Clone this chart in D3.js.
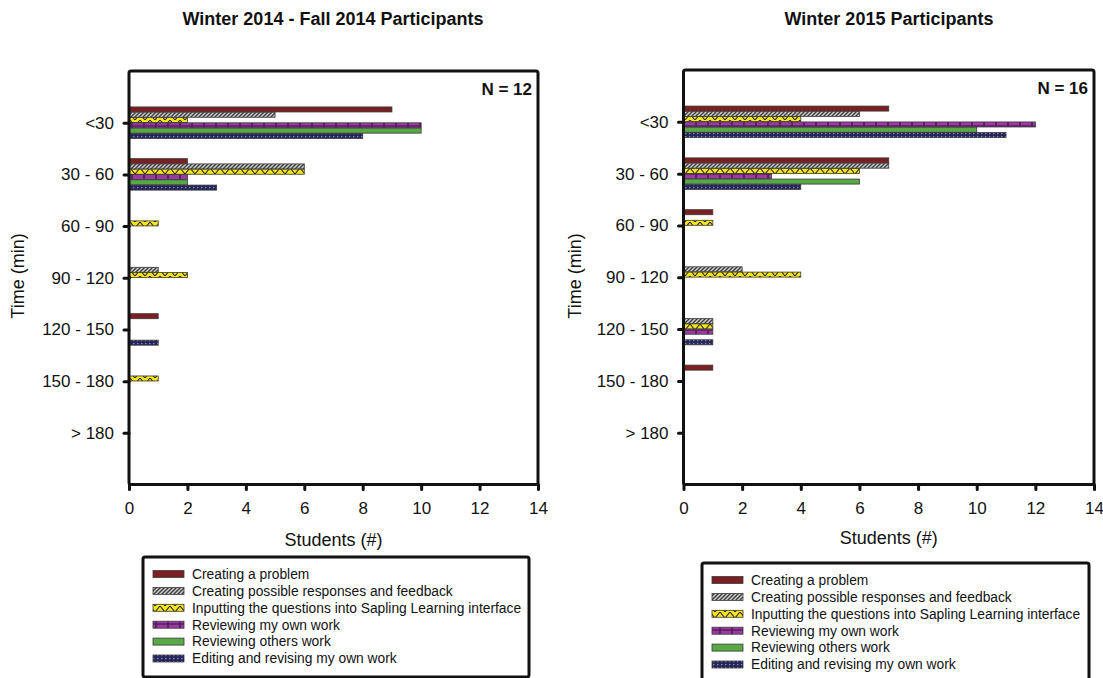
<!DOCTYPE html>
<html>
<head>
<meta charset="utf-8">
<script src="https://cdn.jsdelivr.net/npm/d3@7"></script>
<style>
  html, body { margin: 0; padding: 0; background: #fff; }
  svg { display: block; font-family: Arial, "Liberation Sans", sans-serif; }
</style>
</head>
<body>
<svg id="chart" width="1103" height="678"></svg>
<script>
// Time bins (y categories)
const timeBins = ["<30", "30 - 60", "60 - 90", "90 - 120", "120 - 150", "150 - 180", "> 180"];

// Activities (series)
const activities = [
  "Creating a problem",
  "Creating possible responses and feedback",
  "Inputting the questions into Sapling Learning interface",
  "Reviewing my own work",
  "Reviewing others work",
  "Editing and revising my own work"
];

// Number of students per time bin — Winter 2014 - Fall 2014
const w14CreatingProblem   = [9, 2, 0, 0, 1, 0, 0];
const w14CreatingResponses = [5, 6, 0, 1, 0, 0, 0];
const w14Inputting         = [2, 6, 1, 2, 0, 1, 0];
const w14ReviewingOwn      = [10, 2, 0, 0, 0, 0, 0];
const w14ReviewingOthers   = [10, 2, 0, 0, 0, 0, 0];
const w14Editing           = [8, 3, 0, 0, 1, 0, 0];

// Number of students per time bin — Winter 2015
const w15CreatingProblem   = [7, 7, 1, 0, 0, 1, 0];
const w15CreatingResponses = [6, 7, 0, 2, 1, 0, 0];
const w15Inputting         = [4, 6, 1, 4, 1, 0, 0];
const w15ReviewingOwn      = [12, 3, 0, 0, 1, 0, 0];
const w15ReviewingOthers   = [10, 6, 0, 0, 0, 0, 0];
const w15Editing           = [11, 4, 0, 0, 1, 0, 0];

// X axis ticks
const xTicks = [0, 2, 4, 6, 8, 10, 12, 14];

const svg = d3.select("#chart");
const defs = svg.append("defs");

// ---- fill patterns for each activity ----
// hatch
const pHatch = defs.append("pattern").attr("id", "pat-hatch")
  .attr("patternUnits", "userSpaceOnUse").attr("width", 4).attr("height", 4);
pHatch.append("rect").attr("width", 4).attr("height", 4).attr("fill", "#cfcfcf");
pHatch.append("path").attr("d", "M-1,5 L5,-1 M-1,1 L1,-1 M3,5 L5,3")
  .attr("stroke", "#3c3c3c").attr("stroke-width", 1.4);

// yellow zigzag
const pZig = defs.append("pattern").attr("id", "pat-zig")
  .attr("patternUnits", "userSpaceOnUse").attr("width", 10).attr("height", 6);
pZig.append("rect").attr("width", 10).attr("height", 6).attr("fill", "#f4e41c");
pZig.append("path").attr("d", "M0,0 L5,6 L10,0")
  .attr("fill", "none").attr("stroke", "#2a2a10").attr("stroke-width", 1.1);

// purple segments
const pSeg = defs.append("pattern").attr("id", "pat-seg")
  .attr("patternUnits", "userSpaceOnUse").attr("width", 12).attr("height", 6);
pSeg.append("rect").attr("width", 12).attr("height", 6).attr("fill", "#5e1f66");
pSeg.append("rect").attr("x", 1).attr("y", 0.8).attr("width", 10).attr("height", 4.4).attr("fill", "#9a3aa2");

// navy dots
const pDot = defs.append("pattern").attr("id", "pat-dot")
  .attr("patternUnits", "userSpaceOnUse").attr("width", 4).attr("height", 3);
pDot.append("rect").attr("width", 4).attr("height", 3).attr("fill", "#26265a");
pDot.append("rect").attr("x", 1).attr("y", 1).attr("width", 1.4).attr("height", 1.2).attr("fill", "#8c8cc0");

const activityFills = ["#7b1f22", "url(#pat-hatch)", "url(#pat-zig)", "url(#pat-seg)", "#58a846", "url(#pat-dot)"];

function drawPanel(p) {
  const g = svg.append("g");

  const x = d3.scaleLinear().domain([0, 14]).range([p.left, p.right]);
  const y = d3.scalePoint().domain(timeBins).range([p.top, p.bottom]).padding(1);
  const inner = d3.scaleBand().domain(d3.range(activities.length)).range([-15.75, 15.75]).paddingInner(0.05);

  // bars
  p.series.forEach((vals, si) => {
    g.append("g").selectAll("rect")
      .data(vals.map((v, i) => ({ bin: timeBins[i], v })).filter(d => d.v > 0))
      .join("rect")
      .attr("x", x(0))
      .attr("y", d => y(d.bin) + inner(si))
      .attr("width", d => x(d.v) - x(0))
      .attr("height", inner.bandwidth())
      .attr("fill", activityFills[si])
      .attr("stroke", "#3a3a3a")
      .attr("stroke-width", 0.8);
  });

  // frame
  g.append("rect")
    .attr("x", p.left).attr("y", p.top)
    .attr("width", p.right - p.left).attr("height", p.bottom - p.top)
    .attr("rx", 2)
    .attr("fill", "none").attr("stroke", "#111").attr("stroke-width", 3);

  // x axis
  const xAxis = g.append("g").attr("transform", `translate(0,${p.bottom})`)
    .call(d3.axisBottom(x).tickValues(xTicks).tickSize(5).tickPadding(12).tickFormat(d3.format("d")));
  xAxis.select(".domain").remove();
  xAxis.selectAll(".tick line").attr("stroke", "#111").attr("stroke-width", 3).attr("stroke-linecap", "round");
  xAxis.selectAll(".tick text").attr("font-size", 17).attr("fill", "#111")
    .attr("font-family", "Arial, 'Liberation Sans', sans-serif");

  // y axis
  const yAxis = g.append("g").attr("transform", `translate(${p.left},0)`)
    .call(d3.axisLeft(y).tickSize(5).tickPadding(10));
  yAxis.select(".domain").remove();
  yAxis.selectAll(".tick line").attr("stroke", "#111").attr("stroke-width", 3).attr("stroke-linecap", "round");
  yAxis.selectAll(".tick text").attr("font-size", 17).attr("fill", "#111")
    .attr("font-family", "Arial, 'Liberation Sans', sans-serif");

  // titles
  g.append("text").attr("x", p.titleX).attr("y", 25)
    .attr("text-anchor", "middle").attr("font-size", 18).attr("font-weight", "bold")
    .attr("fill", "#111").text(p.title);
  g.append("text").attr("x", p.right - 6).attr("y", p.top + 24)
    .attr("text-anchor", "end").attr("font-size", 17).attr("font-weight", "bold")
    .attr("fill", "#111").text(p.nLabel);
  g.append("text").attr("x", (p.left + p.right) / 2).attr("y", p.xTitleY)
    .attr("text-anchor", "middle").attr("font-size", 18).attr("fill", "#111").text("Students (#)");
  g.append("text").attr("transform", `translate(${p.yTitleX},276) rotate(-90)`)
    .attr("text-anchor", "middle").attr("font-size", 18).attr("fill", "#111").text("Time (min)");

  // legend
  const lg = g.append("g");
  lg.append("rect").attr("x", p.legX).attr("y", p.legY).attr("width", p.legW).attr("height", 120)
    .attr("rx", 2).attr("fill", "#fff").attr("stroke", "#111").attr("stroke-width", 3);
  activities.forEach((name, i) => {
    const cy = p.legY + 17 + i * 16.9;
    lg.append("rect").attr("x", p.legX + 10).attr("y", cy - 3.5).attr("width", 31).attr("height", 7)
      .attr("fill", activityFills[i]).attr("stroke", "#3a3a3a").attr("stroke-width", 0.8);
    lg.append("text").attr("x", p.legX + 49).attr("y", cy).attr("dy", "0.35em")
      .attr("font-size", 13.8).attr("fill", "#111").text(name);
  });
}

drawPanel({
  title: "Winter 2014 - Fall 2014 Participants",
  nLabel: "N = 12",
  left: 129, right: 538, top: 71, bottom: 484.5, titleX: 333,
  xTitleY: 546, yTitleX: 24,
  legX: 143, legY: 557, legW: 386,
  series: [w14CreatingProblem, w14CreatingResponses, w14Inputting, w14ReviewingOwn, w14ReviewingOthers, w14Editing]
});

drawPanel({
  title: "Winter 2015 Participants",
  nLabel: "N = 16",
  left: 683.5, right: 1094, top: 70, bottom: 484.5, titleX: 889,
  xTitleY: 544, yTitleX: 581,
  legX: 702, legY: 563, legW: 387,
  series: [w15CreatingProblem, w15CreatingResponses, w15Inputting, w15ReviewingOwn, w15ReviewingOthers, w15Editing]
});
</script>
</body>
</html>
